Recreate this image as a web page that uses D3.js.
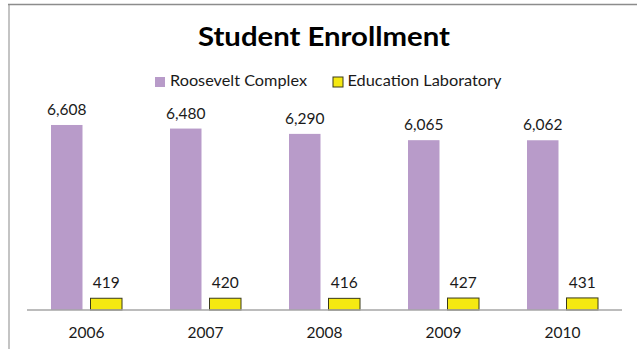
<!DOCTYPE html>
<html>
<head>
<meta charset="utf-8">
<script src="https://cdn.jsdelivr.net/npm/d3@7/dist/d3.min.js"></script>
<style>
  html, body { margin: 0; padding: 0; background: #fff; }
  svg { display: block; }
  text { font-family: Lato, "Open Sans", sans-serif; }
</style>
</head>
<body>
<svg id="chart" width="637" height="349"></svg>
<script>
// Enrollment by year for the two schools
const years = ["2006", "2007", "2008", "2009", "2010"];
const seriesNames = ["Roosevelt Complex", "Education Laboratory"];
const roosevelt = [6608, 6480, 6290, 6065, 6062];
const educationLab = [419, 420, 416, 427, 431];
const seriesColors = ["#B89BC9", "#F5E912"];
const chartTitle = "Student Enrollment";

const svg = d3.select("#chart");
const W = 637, H = 349;

// chart frame (left and top edges visible)
svg.append("line").attr("x1", 9).attr("x2", 9).attr("y1", 4).attr("y2", H)
  .attr("stroke", "#C4C4C4").attr("stroke-width", 2);
svg.append("line").attr("x1", 8).attr("x2", W).attr("y1", 4.5).attr("y2", 4.5)
  .attr("stroke", "#8C8C8C").attr("stroke-width", 1.5);

const plot = { left: 27, right: 622, top: 114, bottom: 310 };

const x = d3.scaleBand().domain(years).range([plot.left, plot.right]);
const y = d3.scaleLinear().domain([0, 7000]).range([plot.bottom, plot.top]);

const barW = 31.5, gap = 8;
const offsets = [-(gap / 2 + barW), gap / 2];

const data = years.map((yr, i) => ({ year: yr, values: [roosevelt[i], educationLab[i]] }));

const groups = svg.append("g").selectAll("g").data(data).join("g")
  .attr("transform", d => `translate(${x(d.year) + x.bandwidth() / 2},0)`);

groups.selectAll("rect").data(d => d.values.map((v, k) => ({ v, k }))).join("rect")
  .attr("x", d => offsets[d.k])
  .attr("width", barW)
  .attr("y", d => y(d.v))
  .attr("height", d => plot.bottom - y(d.v))
  .attr("fill", d => seriesColors[d.k])
  .attr("stroke", d => d.k === 1 ? "#3A3A1A" : "none")
  .attr("stroke-width", 1);

const fmt = d3.format(",");
groups.selectAll("text.val").data(d => d.values.map((v, k) => ({ v, k }))).join("text")
  .attr("class", "val")
  .attr("x", d => offsets[d.k] + barW / 2)
  .attr("y", d => y(d.v) - 10)
  .attr("text-anchor", "middle")
  .attr("font-size", 15.5)
  .attr("fill", "#1a1a1a")
  .text(d => fmt(d.v));

// category axis
const xAxis = svg.append("g").attr("transform", `translate(0,${plot.bottom})`)
  .call(d3.axisBottom(x).tickSize(0).tickPadding(17));
xAxis.select(".domain").attr("stroke", "#A6A6A6").attr("stroke-width", 1.5)
  .attr("d", `M${plot.left},0H${plot.right}`);
xAxis.selectAll("text").attr("font-size", 15.5).attr("fill", "#1a1a1a")
  .attr("font-family", "Lato, 'Open Sans', sans-serif");

// title
svg.append("text").attr("x", 324).attr("y", 46)
  .attr("text-anchor", "middle").attr("font-size", 27).attr("font-weight", "bold")
  .attr("fill", "#000")
  .attr("textLength", 252).attr("lengthAdjust", "spacingAndGlyphs")
  .text(chartTitle);

// legend
const legendItems = [
  { name: seriesNames[0], color: seriesColors[0], sx: 155, tx: 170, tw: 137, stroke: "none" },
  { name: seriesNames[1], color: seriesColors[1], sx: 333, tx: 347.5, tw: 154, stroke: "#3A3A1A" }
];
const legend = svg.append("g");
legend.selectAll("rect").data(legendItems).join("rect")
  .attr("x", d => d.sx).attr("y", 77).attr("width", 10).attr("height", 10)
  .attr("fill", d => d.color).attr("stroke", d => d.stroke);
legend.selectAll("text").data(legendItems).join("text")
  .attr("x", d => d.tx).attr("y", 86)
  .attr("font-size", 15).attr("fill", "#1a1a1a")
  .attr("textLength", d => d.tw).attr("lengthAdjust", "spacingAndGlyphs")
  .text(d => d.name);
</script>
</body>
</html>
